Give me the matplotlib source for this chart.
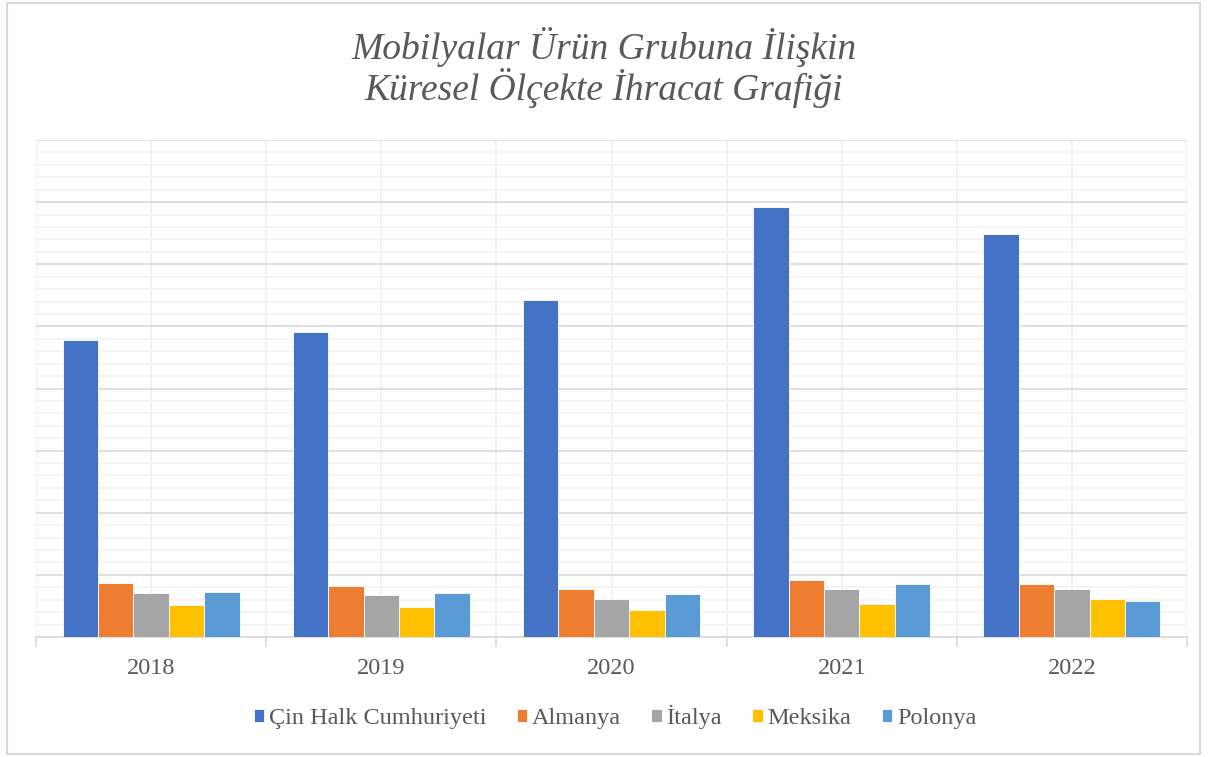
import matplotlib
matplotlib.use("Agg")
import matplotlib.pyplot as plt
import numpy as np
from matplotlib.patches import Rectangle

years = ["2018", "2019", "2020", "2021", "2022"]
series_names = ["Çin Halk Cumhuriyeti", "Almanya", "İtalya", "Meksika", "Polonya"]
cin = [4.78, 4.91, 5.43, 6.92, 6.48]
almanya = [0.87, 0.826, 0.77, 0.91, 0.86]
italya = [0.71, 0.68, 0.61, 0.77, 0.78]
meksika = [0.515, 0.49, 0.435, 0.53, 0.61]
polonya = [0.725, 0.71, 0.69, 0.85, 0.58]
colors = ["#4472C4", "#ED7D31", "#A5A5A5", "#FFC000", "#5B9BD5"]

data = [cin, almanya, italya, meksika, polonya]

fig = plt.figure(figsize=(12.08, 7.57), dpi=100)
fig.patch.set_facecolor("white")
fig.patches.append(Rectangle((7/1208, 3/757), 1193/1208, 751/757, transform=fig.transFigure,
                             fill=False, edgecolor="#d9d9d9", linewidth=1.5))

ax = fig.add_axes([36/1208, (757-637)/757, (1187-36)/1208, (637-140)/757])
x = np.arange(len(years))
bw = 1/6.5
for i, (vals, name, c) in enumerate(zip(data, series_names, colors)):
    ax.bar(x + (i - 2) * bw, vals, width=bw, color=c, label=name,
           edgecolor="white", linewidth=0.6, zorder=3)

ax.set_xlim(-0.5, len(years) - 0.5)
ax.set_ylim(0, 8)
# horizontal grid
ax.set_yticks(np.arange(0, 9, 1))
ax.set_yticks(np.arange(0, 8.01, 0.2), minor=True)
ax.yaxis.grid(True, which="minor", color="#f2f2f2", linewidth=1.2, zorder=0)
ax.yaxis.grid(True, which="major", color="#d9d9d9", linewidth=1.2, zorder=1)
ax.tick_params(axis="y", which="both", left=False, labelleft=False)
# vertical grid
for xv in np.arange(-0.5, len(years), 0.5):
    ax.axvline(xv, color="#f2f2f2", linewidth=1.5, zorder=0)
ax.set_xticks(x)
ax.set_xticklabels(years, fontsize=17.5, color="#595959", family="Liberation Serif")
ax.tick_params(axis="x", which="major", length=0, pad=15)
ax.set_xticks(np.arange(-0.5, len(years), 1), minor=True)
ax.tick_params(axis="x", which="minor", length=7, color="#d9d9d9", width=1.2)
for s in ["top", "left", "right"]:
    ax.spines[s].set_visible(False)
ax.spines["bottom"].set_color("#d9d9d9")
ax.spines["bottom"].set_linewidth(1.2)
ax.set_axisbelow(True)

fig.text(0.5, 1 - 47/757, "Mobilyalar Ürün Grubuna İlişkin", ha="center", va="center",
         fontsize=27, style="italic", color="#595959", family="Liberation Serif")
fig.text(0.5, 1 - 88/757, "Küresel Ölçekte İhracat Grafiği", ha="center", va="center",
         fontsize=27, style="italic", color="#595959", family="Liberation Serif")

leg = fig.legend(loc="center", bbox_to_anchor=(615/1208, 1 - 717/757), ncol=5, frameon=False,
                 prop={"family": "Liberation Serif", "size": 17.5},
                 handlelength=0.42, handleheight=0.42, handletextpad=0.2, columnspacing=1.25,
                 labelcolor="#595959")

fig.savefig("out.png", dpi=100, facecolor="white")
